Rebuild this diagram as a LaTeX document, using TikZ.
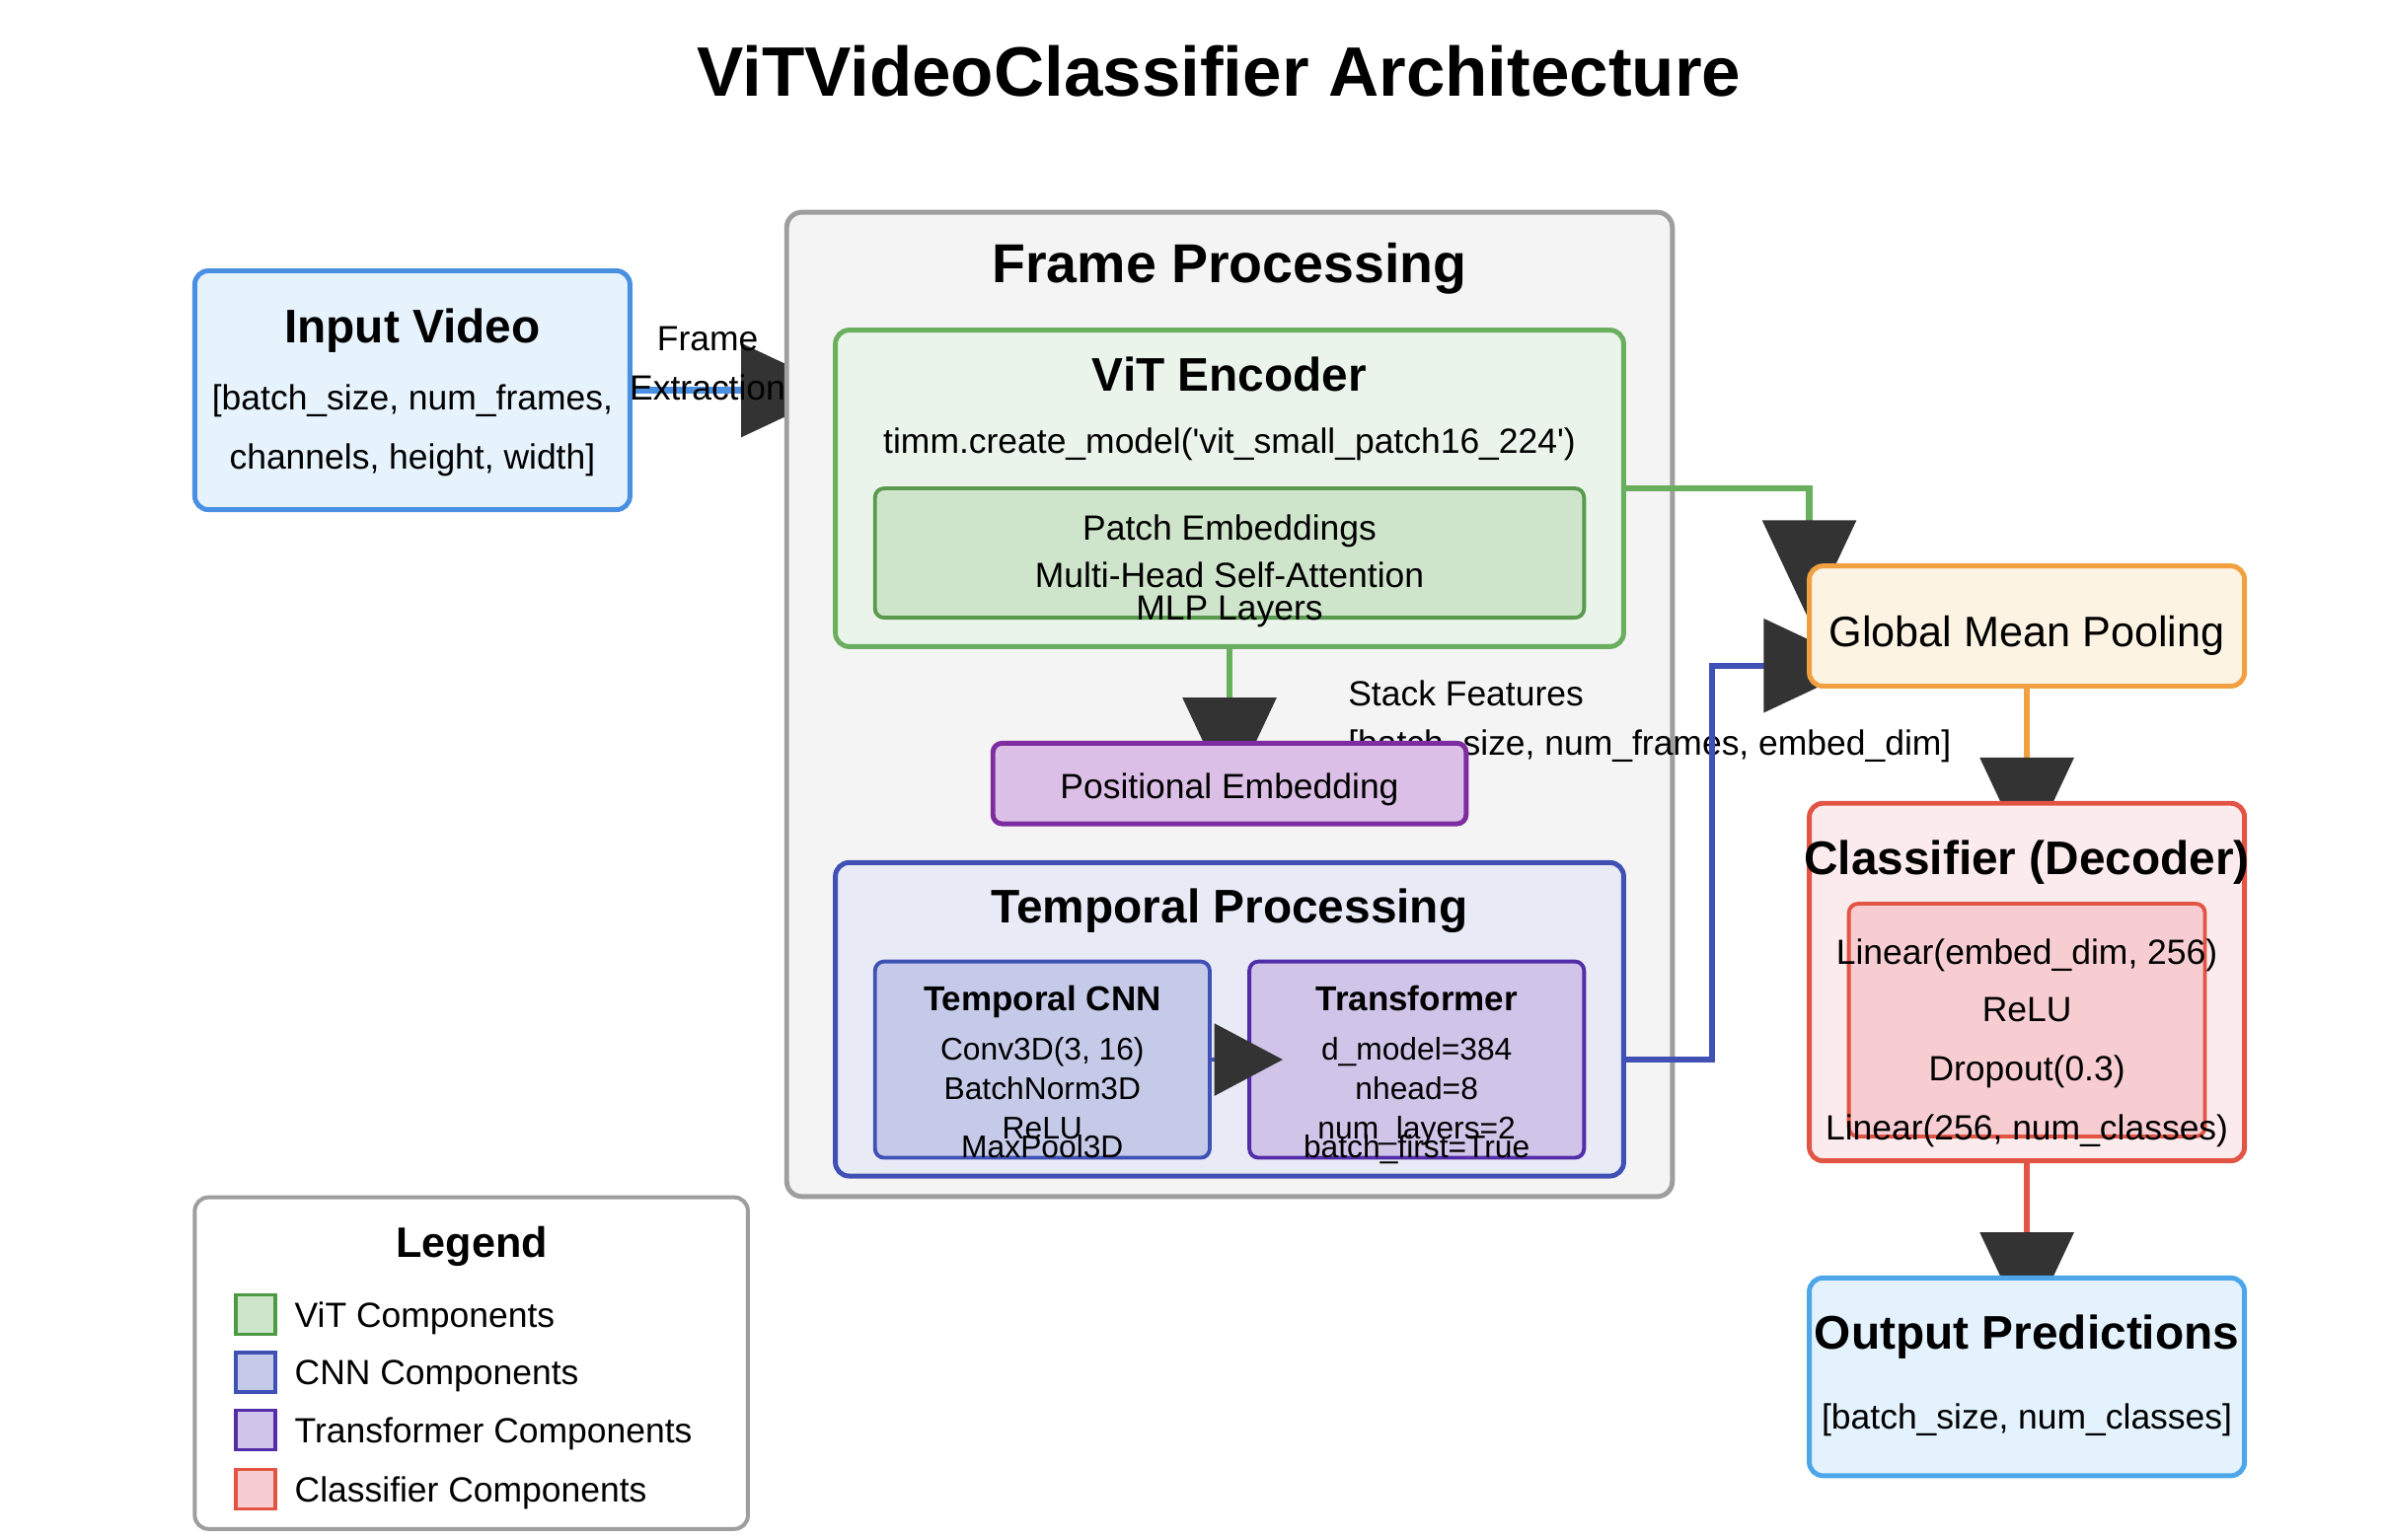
\documentclass[tikz,border=0pt]{standalone}
\usepackage{fontspec}
\setmainfont{Liberation Sans}[Ligatures=TeXOff]
\usetikzlibrary{arrows.meta,calc}
\pgfdeclarelayer{lzero}
\pgfdeclarelayer{lone}
\pgfdeclarelayer{ltwo}
\pgfdeclarelayer{ltop}
\pgfsetlayers{lzero,lone,ltwo,main,ltop}
\definecolor{inblue}{HTML}{4A90E2}
\definecolor{infill}{HTML}{E6F2FC}
\definecolor{outblue}{HTML}{4DA6EA}
\definecolor{outfill}{HTML}{E3F2FD}
\definecolor{framegray}{HTML}{9E9E9E}
\definecolor{framefill}{HTML}{F4F4F4}
\definecolor{vitgreen}{HTML}{6AAF5E}
\definecolor{vitfill}{HTML}{EAF4EA}
\definecolor{patchgreen}{HTML}{5A9A4E}
\definecolor{patchfill}{HTML}{CFE5CB}
\definecolor{pepurple}{HTML}{7E2DA0}
\definecolor{pefill}{HTML}{DCBFE6}
\definecolor{indigoc}{HTML}{3F51B5}
\definecolor{tempfill}{HTML}{E8EAF6}
\definecolor{cnnfill}{HTML}{C5CAE9}
\definecolor{dpurple}{HTML}{512DA8}
\definecolor{trfill}{HTML}{D1C4E9}
\definecolor{gmporange}{HTML}{F0A040}
\definecolor{gmpfill}{HTML}{FDF3E3}
\definecolor{clsred}{HTML}{E25444}
\definecolor{clsfill}{HTML}{FCEBEC}
\definecolor{clsinner}{HTML}{F7CDD2}
\definecolor{headgray}{HTML}{333333}
\definecolor{leggreen}{HTML}{4E9A44}
\tikzset{
  bx/.style={draw, rounded corners=9pt, line width=3.2pt, inner sep=0pt, outer sep=0pt},
  ibx/.style={draw, rounded corners=6pt, line width=2.5pt, inner sep=0pt, outer sep=0pt},
  sq/.style={draw, line width=2.2pt, inner sep=0pt, outer sep=0pt, minimum width=26pt, minimum height=26pt},
  lbl/.style={inner sep=0pt, outer sep=0pt, text depth=0pt},
  t23/.style={lbl, font=\fontsize{23}{27}\selectfont, text height=16.5pt},
  t21/.style={lbl, font=\fontsize{20.6}{24}\selectfont, text height=14.8pt},
  t28/.style={lbl, font=\fontsize{28}{33}\selectfont, text height=20pt},
  b23/.style={lbl, font=\fontsize{22.7}{27}\selectfont\bfseries, text height=16.3pt},
  b28/.style={lbl, font=\fontsize{28}{33}\selectfont\bfseries, text height=20pt},
  b31/.style={lbl, font=\fontsize{31}{36}\selectfont\bfseries, text height=22.3pt},
  b36/.style={lbl, font=\fontsize{36}{42}\selectfont\bfseries, text height=25.9pt},
  b46/.style={lbl, font=\fontsize{46}{54}\selectfont\bfseries, text height=33pt},
  conn/.style={line width=4pt, -{Triangle[length=66pt,width=61pt,color=headgray]}, shorten >=-36pt},
  connsm/.style={line width=3pt, -{Triangle[length=45pt,width=47pt,color=headgray]}, shorten >=-22pt},
}
\begin{document}
\begin{tikzpicture}[x=1pt,y=-1pt]
\begin{pgfonlayer}{lzero}
\path[use as bounding box, fill=white] (0,0) rectangle (1568,1012);
\end{pgfonlayer}

\node[b46] (title) at (801,47) {ViTVideoClassifier Architecture};

% Frame processing container
\begin{pgfonlayer}{lone}
\node[bx, rounded corners=10pt, draw=framegray, fill=framefill, minimum width=582pt, minimum height=647pt] (frame) at (808,463) {};
\node[t23, anchor=west] (stack1) at (886,456) {Stack Features};
\node[t23, anchor=west] (stack2) at (886,488) {[batch\_size, num\_frames, embed\_dim]};
\end{pgfonlayer}
\node[b36] (frametitle) at (808,173) {Frame Processing};

% Input
\node[bx, draw=inblue, fill=infill, minimum width=286pt, minimum height=157pt] (input) at (271,256.5) {};
\node[b31] (inputt) at (271,214) {Input Video};
\node[t23] (input1) at (271,261) {[batch\_size, num\_frames,};
\node[t23] (input2) at (271,300) {channels, height, width]};

% ViT encoder
\node[bx, draw=vitgreen, fill=vitfill, minimum width=518pt, minimum height=208pt] (vit) at (808,321) {};
\node[b31] (vitt) at (808,246) {ViT Encoder};
\node[t23] (vit1) at (808,289.5) {timm.create\_model('vit\_small\_patch16\_224')};
\node[ibx, draw=patchgreen, fill=patchfill, minimum width=466pt, minimum height=85pt] (patch) at (808,363.5) {};
\node[t23] (patch1) at (808,347) {Patch Embeddings};
\node[t23] (patch2) at (808,378) {Multi-Head Self-Attention};
\node[t23] (patch3) at (808,399) {MLP Layers};

% Positional embedding
\node[bx, rounded corners=6pt, draw=pepurple, fill=pefill, minimum width=311pt, minimum height=53pt] (posemb) at (808,515) {};
\node[t23] (posembt) at (808,516.7) {Positional Embedding};

% Temporal processing
\node[bx, draw=indigoc, fill=tempfill, minimum width=518pt, minimum height=206pt] (temporal) at (808,670) {};
\node[b31] (temporalt) at (808,595.5) {Temporal Processing};
\node[ibx, draw=indigoc, fill=cnnfill, minimum width=220pt, minimum height=129pt] (cnn) at (685,696.5) {};
\node[b23] (cnnt) at (685,656) {Temporal CNN};
\node[t21] (cnn1) at (685,689.5) {Conv3D(3, 16)};
\node[t21] (cnn2) at (685,715.5) {BatchNorm3D};
\node[t21] (cnn3) at (685,741) {ReLU};
\node[t21] (cnn4) at (685,753.4) {MaxPool3D};
\node[ibx, draw=dpurple, fill=trfill, minimum width=220pt, minimum height=129pt] (trans) at (931,696.5) {};
\node[b23] (transt) at (931,656) {Transformer};
\node[t21] (trans1) at (931,689.5) {d\_model=384};
\node[t21] (trans2) at (931,715.5) {nhead=8};
\node[t21] (trans3) at (931,741) {num\_layers=2};
\node[t21] (trans4) at (931,753.4) {batch\_first=True};

% Right column
\node[bx, draw=gmporange, fill=gmpfill, minimum width=286pt, minimum height=79pt] (gmp) at (1332,411.5) {};
\node[t28] (gmpt) at (1332,415) {Global Mean Pooling};
\node[bx, draw=clsred, fill=clsfill, minimum width=286pt, minimum height=235pt] (cls) at (1332,645.5) {};
\node[ibx, draw=clsred, fill=clsinner, minimum width=234pt, minimum height=153pt] (clsin) at (1332,670.5) {};
\node[b31] (clst) at (1332,564) {Classifier (Decoder)};
\node[t23] (cls1) at (1332,625.6) {Linear(embed\_dim, 256)};
\node[t23] (cls2) at (1332,663) {ReLU};
\node[t23] (cls3) at (1332,702) {Dropout(0.3)};
\node[t23] (cls4) at (1332,741) {Linear(256, num\_classes)};
\node[bx, draw=outblue, fill=outfill, minimum width=286pt, minimum height=130pt] (out) at (1332,905) {};
\node[b31] (outt) at (1332,875.5) {Output Predictions};
\node[t23] (out1) at (1332,930.8) {[batch\_size, num\_classes]};

% Legend
\node[bx, draw=framegray, fill=white, line width=2.6pt, minimum width=363.5pt, minimum height=218pt] (legend) at (309.75,896) {};
\node[b28] (legendt) at (310,816.6) {Legend};
\node[sq, draw=leggreen, fill=patchfill] (sq1) at (168,864) {};
\node[sq, draw=indigoc, fill=cnnfill] (sq2) at (168,902) {};
\node[sq, draw=dpurple, fill=trfill] (sq3) at (168,940) {};
\node[sq, draw=clsred, fill=clsinner] (sq4) at (168,979) {};
\node[t23, anchor=west] (leg1) at (193.7,864) {ViT Components};
\node[t23, anchor=west] (leg2) at (193.7,902) {CNN Components};
\node[t23, anchor=west] (leg3) at (193.7,940) {Transformer Components};
\node[t23, anchor=west] (leg4) at (193.7,979) {Classifier Components};

% Connectors
\begin{pgfonlayer}{lzero}
\draw[conn, draw=inblue] (input.east) -- (input.east -| frame.west);
\end{pgfonlayer}
\begin{pgfonlayer}{ltwo}
\draw[conn, draw=vitgreen] (vit.south) -- (posemb.north);
\draw[conn, draw=vitgreen] (vit.east) -| (gmp.north west);
\draw[conn, draw=indigoc] (temporal.east |- cnn.east) -- ++(58,0) |- ($(gmp.west)+(0,26)$);
\draw[conn, draw=gmporange] (gmp.south) -- (cls.north);
\draw[conn, draw=clsred] (cls.south) -- (out.north);
\end{pgfonlayer}
\begin{pgfonlayer}{ltop}
\draw[connsm, draw=indigoc] (cnn.east) -- (trans.west);
\node[t23] (fe1) at (465,222.6) {Frame};
\node[t23] (fe2) at (465,255) {Extraction};
\end{pgfonlayer}
\end{tikzpicture}
\end{document}
